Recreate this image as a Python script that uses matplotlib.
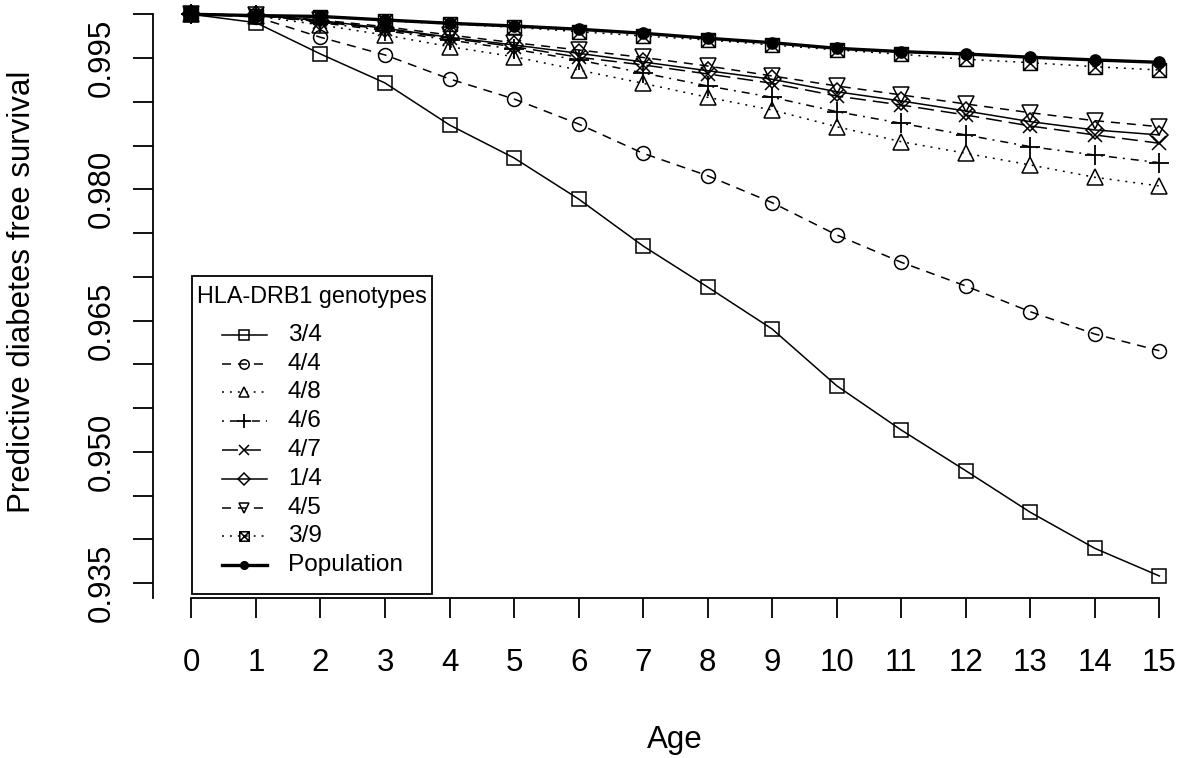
import numpy as np
import matplotlib
matplotlib.use("Agg")
import matplotlib.pyplot as plt
from matplotlib.lines import Line2D
from matplotlib.patches import Rectangle
from matplotlib.path import Path

plt.rcParams['font.family'] = ['Liberation Sans', 'DejaVu Sans']
plt.rcParams['lines.scale_dashes'] = False

W, H = 1180, 758

# --- data ------------------------------------------------------------------
ages = list(range(16))

g34 = [1.0, 0.99904, 0.99546, 0.99215, 0.98735, 0.98358, 0.97889, 0.97352,
       0.96883, 0.96403, 0.95755, 0.95249, 0.94784, 0.94309, 0.93897, 0.93581]
g44 = [1.0, 0.99970, 0.99737, 0.99535, 0.99261, 0.99032, 0.98746, 0.98411,
       0.98155, 0.97847, 0.97478, 0.97166, 0.96895, 0.96601, 0.96346, 0.96155]
g48 = [1.0, 0.99980, 0.99878, 0.99763, 0.99630, 0.99515, 0.99363, 0.99211,
       0.99051, 0.98906, 0.98715, 0.98544, 0.98411, 0.98278, 0.98137, 0.98038]
g46 = [1.0, 0.99990, 0.99904, 0.99813, 0.99706, 0.99600, 0.99478, 0.99329,
       0.99181, 0.99051, 0.98887, 0.98754, 0.98621, 0.98487, 0.98392, 0.98304]
g47 = [1.0, 0.99990, 0.99915, 0.99829, 0.99726, 0.99630, 0.99509, 0.99421,
       0.99318, 0.99211, 0.99066, 0.98963, 0.98849, 0.98723, 0.98621, 0.98526]
g14 = [1.0, 0.99990, 0.99927, 0.99840, 0.99737, 0.99649, 0.99554, 0.99455,
       0.99355, 0.99257, 0.99115, 0.99009, 0.98895, 0.98773, 0.98678, 0.98621]
g45 = [1.0, 0.99990, 0.99935, 0.99858, 0.99763, 0.99675, 0.99592, 0.99506,
       0.99409, 0.99295, 0.99181, 0.99078, 0.98975, 0.98875, 0.98784, 0.98715]
g39 = [1.0, 0.99985, 0.99973, 0.99927, 0.99889, 0.99851, 0.99801, 0.99752,
       0.99706, 0.99649, 0.99592, 0.99543, 0.99486, 0.99447, 0.99401, 0.99363]
population = [1.0, 0.99985, 0.99975, 0.99935, 0.99897, 0.99866, 0.99829, 0.99783,
              0.99726, 0.99675, 0.99611, 0.99573, 0.99546, 0.99509, 0.99478, 0.99451]

labels = ['3/4', '4/4', '4/8', '4/6', '4/7', '1/4', '4/5', '3/9', 'Population']
series = [g34, g44, g48, g46, g47, g14, g45, g39, population]

y_ticks = np.round(np.arange(0.935, 1.0001, 0.005), 3)
y_labeled = [0.935, 0.950, 0.965, 0.980, 0.995]

# square with an X inside (R pch 7)
boxed_x = Path([(-1, -1), (1, -1), (1, 1), (-1, 1), (-1, -1),
                (-1, -1), (1, 1), (-1, 1), (1, -1)],
               [Path.MOVETO, Path.LINETO, Path.LINETO, Path.LINETO, Path.CLOSEPOLY,
                Path.MOVETO, Path.LINETO, Path.MOVETO, Path.LINETO])

# R line types, dash lengths in points
SOLID = '-'
DASHED = (0, (6.5, 5.0))
DOTTED = (0, (1.4, 4.3))
DOTDASH = (0, (1.4, 4.3, 5.8, 4.3))
LONGDASH = (0, (11.5, 5.0))

styles = [
    dict(ls=SOLID, marker='s', ms=10),
    dict(ls=DASHED, marker='o', ms=10),
    dict(ls=DOTTED, marker='^', ms=11),
    dict(ls=DOTDASH, marker='+', ms=14, mew=1.3),
    dict(ls=LONGDASH, marker='x', ms=10),
    dict(ls=SOLID, marker='D', ms=9),
    dict(ls=DASHED, marker='v', ms=11),
    dict(ls=DOTTED, marker=boxed_x, ms=10),
    dict(ls=SOLID, marker='o', ms=8, lw=2.4, filled=True),
]


def fx(px):
    return px / W


def fy(py):
    return 1 - py / H


fig = plt.figure(figsize=(W / 100, H / 100), dpi=100)

# plot region in pixels (left edge of the y axis to right side of image)
left_px, bottom_px = 152.7, 598.3
ax = fig.add_axes([fx(left_px), fy(bottom_px), 1 - fx(left_px), 1 - fy(bottom_px)])
ax.set_xlim(-0.6, 15.32)
ax.set_ylim(0.93326, 1.00163)

for vals, st in zip(series, styles):
    st = dict(st)
    filled = st.pop('filled', False)
    lw = st.pop('lw', 1.1)
    mew = st.pop('mew', 1.1)
    ax.plot(ages, vals, color='black', lw=lw, mew=mew,
            mfc='black' if filled else 'none', mec='black',
            clip_on=False, **st)

# R-like axes
for side in ['top', 'right']:
    ax.spines[side].set_visible(False)
ax.spines['left'].set_bounds(0.93326, 1.0)
ax.spines['bottom'].set_bounds(0, 15)
for side in ['left', 'bottom']:
    ax.spines[side].set_linewidth(1.3)

ax.set_xticks(ages)
ax.set_xticklabels([str(a) for a in ages])
ax.set_yticks(y_ticks)
ax.set_yticklabels([f'{t:.3f}' if t in y_labeled else '' for t in y_ticks],
                   rotation=90, va='center')
ax.tick_params(axis='both', length=14.4, width=1.3, labelsize=22.5)
ax.tick_params(axis='x', pad=21.6)
ax.tick_params(axis='y', pad=11.5)

fig.text(fx(675), fy(740), 'Age', ha='center', va='center', fontsize=22.5)
fig.text(fx(22), fy(292), 'Predictive diabetes free survival', rotation=90,
         ha='center', va='center', fontsize=22.5)

# legend box drawn in figure pixels, laid out like R's legend()
box_l, box_t, box_r, box_b = 191.7, 276, 432, 594
fig.add_artist(Rectangle((fx(box_l), fy(box_b)), fx(box_r) - fx(box_l), fy(box_t) - fy(box_b),
                         transform=fig.transFigure, fill=False, lw=1.3, ec='black'))
fig.text(fx(196.7), fy(297), 'HLA-DRB1 genotypes', ha='left', va='center', fontsize=16.8)

row0, row_step = 335, 28.75
for i, (lab, st) in enumerate(zip(labels, styles)):
    st = dict(st)
    filled = st.pop('filled', False)
    lw = st.pop('lw', 1.1)
    mew = st.pop('mew', 1.1)
    st['ms'] = st['ms'] * 0.68
    y = fy(row0 + i * row_step)
    fig.add_artist(Line2D([fx(221.7), fx(244.2), fx(266.7)], [y, y, y],
                          transform=fig.transFigure, color='black', lw=lw, mew=mew,
                          mfc='black' if filled else 'none', mec='black',
                          markevery=[1], **st))
    fig.text(fx(287.7), y, lab, ha='left', va='center', fontsize=17.6)

fig.savefig('out.png', dpi=100)
